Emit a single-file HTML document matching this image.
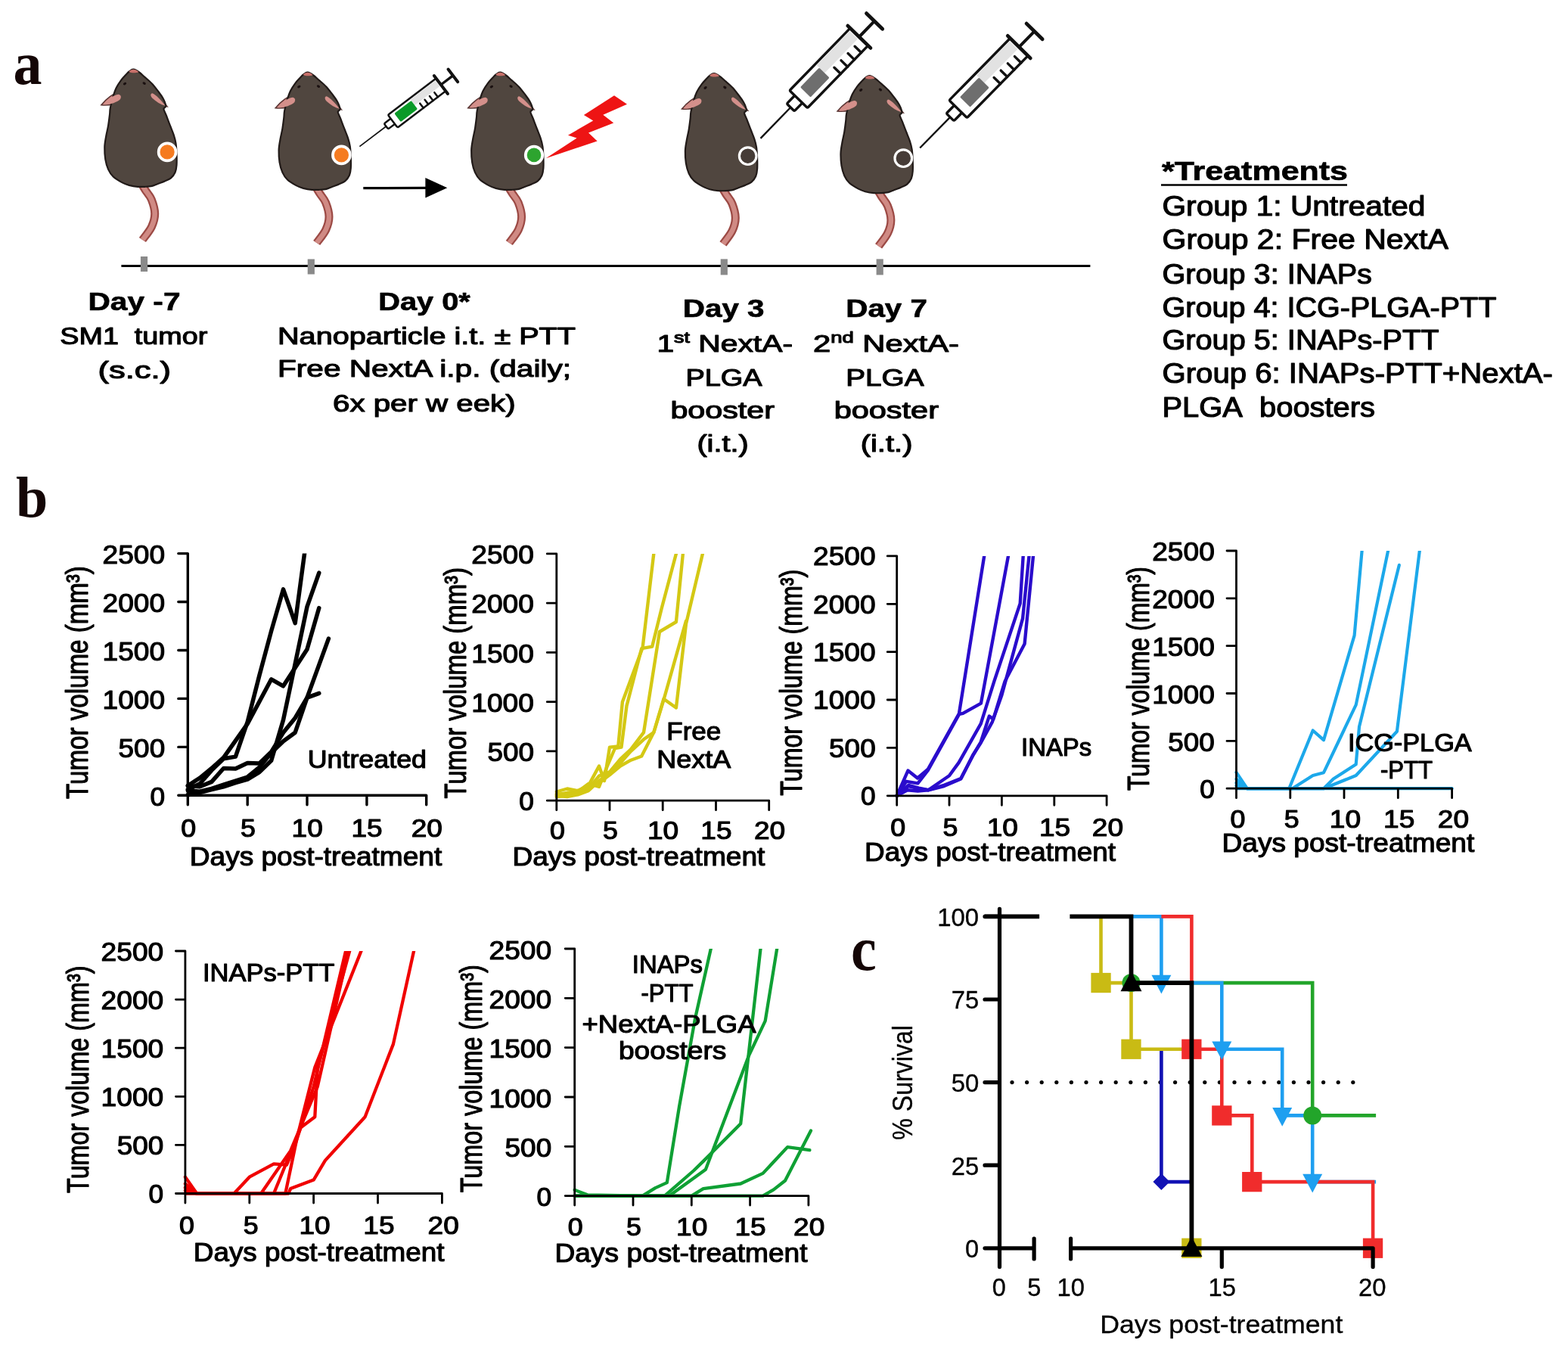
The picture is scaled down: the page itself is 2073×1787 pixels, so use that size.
<!DOCTYPE html>
<html><head><meta charset="utf-8"><title>Figure</title>
<style>html,body{margin:0;padding:0;background:#fff;}svg{display:block;}</style>
</head><body>
<svg xmlns="http://www.w3.org/2000/svg" width="2073" height="1787" viewBox="0 0 2073 1787" font-family="'Liberation Sans', Arial, sans-serif">
<rect width="2073" height="1787" fill="#fff"/>
<style>text{stroke:#000;stroke-width:1.15px;stroke-linejoin:round}text.b{stroke-width:0.7px}text.s{stroke:none}text.t{stroke-width:0.35px}</style>
<defs>
<g id="mouse">
<path d="M10.0,150.0 C11.0,151.7 13.7,156.3 16.0,160.0 C18.3,163.7 21.8,166.9 23.9,172.1 C25.9,177.2 28.3,184.9 28.3,190.9 C28.3,196.9 26.7,202.4 24.0,208.1 C21.3,213.8 14.0,222.4 12.0,225.3" fill="none" stroke="#9c4a45" stroke-width="11" stroke-linecap="butt"/>
<path d="M10.0,150.0 C11.0,151.7 13.7,156.3 16.0,160.0 C18.3,163.7 21.8,166.9 23.9,172.1 C25.9,177.2 28.3,184.9 28.3,190.9 C28.3,196.9 26.7,202.4 24.0,208.1 C21.3,213.8 14.0,222.4 12.0,225.3" fill="none" stroke="#d08a84" stroke-width="6.5" stroke-linecap="butt"/>
<path d="M-42.5,47 C-36,39 -26,31 -19,30.5 C-13,31 -12,36 -14.5,39.5 C-20,44 -31,48.5 -42.5,47Z" fill="#d88c88" stroke="#5a3634" stroke-width="1.6"/>
<path d="M44.5,49 C38,40 30,31 23.5,29 C19,29.5 20,35 23.5,38.5 C30,43.5 37,47.5 44.5,49Z" fill="#d88c88" stroke="#5a3634" stroke-width="1.6"/>
<path d="M0.0,0.0 C2.2,0.2 5.1,2.1 7.6,3.8 C10.1,5.5 12.3,7.9 15.2,10.4 C18.1,12.9 21.9,16.0 24.7,19.0 C27.5,22.0 29.9,25.3 32.3,28.5 C34.7,31.7 37.2,34.7 39.0,38.0 C40.8,41.3 42.6,46.1 42.8,48.5 C43.0,50.9 39.8,50.1 40.0,52.3 C40.2,54.5 42.4,58.1 43.8,61.8 C45.2,65.5 46.9,70.1 48.5,74.2 C50.1,78.3 52.0,82.6 53.3,86.6 C54.6,90.6 55.5,93.7 56.1,98.0 C56.7,102.3 56.9,107.5 57.1,112.3 C57.3,117.0 57.4,122.5 57.1,126.5 C56.8,130.4 56.5,133.1 55.2,136.0 C53.9,138.9 51.7,141.8 49.5,143.7 C47.3,145.6 44.8,146.2 41.9,147.5 C39.0,148.8 35.2,150.2 32.3,151.3 C29.4,152.4 27.5,153.5 24.7,154.1 C21.9,154.7 18.4,154.9 15.2,155.1 C12.0,155.3 9.2,155.4 5.7,155.1 C2.2,154.8 -2.2,154.1 -5.7,153.2 C-9.2,152.2 -11.7,151.3 -15.2,149.4 C-18.7,147.5 -23.7,144.7 -26.7,141.8 C-29.7,138.9 -31.6,136.0 -33.3,132.2 C-35.0,128.4 -36.3,123.8 -37.1,118.9 C-37.9,114.0 -38.2,107.8 -38.1,102.7 C-38.0,97.6 -37.0,93.2 -36.2,88.5 C-35.4,83.8 -34.1,79.0 -33.3,74.2 C-32.5,69.4 -31.9,63.9 -31.4,59.9 C-30.9,55.9 -31.3,54.5 -30.5,50.4 C-29.7,46.3 -28.0,39.5 -26.7,35.2 C-25.4,30.9 -24.6,28.2 -22.9,24.7 C-21.1,21.2 -18.4,17.2 -16.2,14.2 C-14.0,11.2 -11.2,8.5 -9.5,6.6 C-7.8,4.7 -7.3,3.9 -5.7,2.8 C-4.1,1.7 -2.2,-0.2 0.0,0.0Z" fill="#50463f" stroke="#211a18" stroke-width="2.2"/>
<path d="M-40,46.5 C-34,40 -26,33.5 -20,33 C-16,33.5 -16,37 -17.5,39.5 C-22,43.5 -31,47 -40,46.5Z" fill="#d4908b"/>
<path d="M42,48 C37,41 30,33.5 25,31.5 C22,32 22.5,35.5 25,38 C30,42.5 36,46.5 42,48Z" fill="#d4908b"/>
<path d="M-6,3 C-3,-1 3,-1 7,3.5 C3,5 -3,5 -6,3Z" fill="#c8706a"/>
<ellipse cx="-11.4" cy="19" rx="2.3" ry="1.6" fill="#1a1010" transform="rotate(-30 -11.4 19)"/>
<ellipse cx="14.3" cy="18.5" rx="2.3" ry="1.6" fill="#1a1010" transform="rotate(30 14.3 18.5)"/>
</g>
<g id="syr1"><line x1="0" y1="0" x2="45" y2="0" stroke="#111" stroke-width="1.75"/>
<rect x="44" y="-4.5" width="13" height="9" rx="2" fill="#fff" stroke="#111" stroke-width="2.5"/>
<rect x="55" y="-10.5" width="80" height="21" rx="2" fill="#fff" stroke="#111" stroke-width="2.5"/>
<rect x="91" y="-8.75" width="41.5" height="9.450000000000001" fill="#e2e2e2"/>
<rect x="63" y="-7.0" width="28" height="14" rx="1.5" fill="#0a9a28"/>
<line x1="98" y1="10.5" x2="98" y2="2.9" stroke="#111" stroke-width="2.5" stroke-linecap="round"/>
<line x1="106" y1="10.5" x2="106" y2="2.9" stroke="#111" stroke-width="2.5" stroke-linecap="round"/>
<line x1="114" y1="10.5" x2="114" y2="2.9" stroke="#111" stroke-width="2.5" stroke-linecap="round"/>
<line x1="122" y1="10.5" x2="122" y2="2.9" stroke="#111" stroke-width="2.5" stroke-linecap="round"/>
<line x1="135" y1="-15.0" x2="135" y2="15.0" stroke="#111" stroke-width="4.0" stroke-linecap="round"/>
<line x1="135" y1="0" x2="155" y2="0" stroke="#111" stroke-width="3.40"/>
<line x1="155" y1="-10.5" x2="155" y2="10.5" stroke="#111" stroke-width="4.0" stroke-linecap="round"/></g>
<g id="syr2"><line x1="0" y1="0" x2="58" y2="0" stroke="#111" stroke-width="2.38"/>
<rect x="57" y="-7.0" width="17" height="14" rx="2" fill="#fff" stroke="#111" stroke-width="3.4"/>
<rect x="72" y="-16.5" width="115" height="33" rx="2" fill="#fff" stroke="#111" stroke-width="3.4"/>
<rect x="121" y="-14.3" width="62.6" height="14.85" fill="#e2e2e2"/>
<rect x="85" y="-9.5" width="36" height="19" rx="1.5" fill="#6e6e6e"/>
<line x1="135" y1="16.5" x2="135" y2="4.6" stroke="#111" stroke-width="3.4" stroke-linecap="round"/>
<line x1="148" y1="16.5" x2="148" y2="4.6" stroke="#111" stroke-width="3.4" stroke-linecap="round"/>
<line x1="161" y1="16.5" x2="161" y2="4.6" stroke="#111" stroke-width="3.4" stroke-linecap="round"/>
<line x1="174" y1="16.5" x2="174" y2="4.6" stroke="#111" stroke-width="3.4" stroke-linecap="round"/>
<line x1="187" y1="-21.0" x2="187" y2="21.0" stroke="#111" stroke-width="4.8" stroke-linecap="round"/>
<line x1="187" y1="0" x2="216" y2="0" stroke="#111" stroke-width="4.08"/>
<line x1="216" y1="-14.75" x2="216" y2="14.75" stroke="#111" stroke-width="4.8" stroke-linecap="round"/></g>
</defs>
<text transform="translate(17.5,111) scale(1,1.06)" font-size="76" font-weight="bold" font-family="'Liberation Serif', 'Times New Roman', serif" fill="#140606" class="s">a</text>
<text transform="translate(21,682.5) scale(1,1.01)" font-size="76" font-weight="bold" font-family="'Liberation Serif', 'Times New Roman', serif" fill="#140606" class="s">b</text>
<text transform="translate(1125,1282) scale(1,1.09)" font-size="76" font-weight="bold" font-family="'Liberation Serif', 'Times New Roman', serif" fill="#140606" class="s">c</text>
<use href="#mouse" x="176.4" y="91.7"/>
<circle cx="221.1" cy="200.9" r="13.3" fill="#fff"/><circle cx="221.1" cy="200.9" r="9.6" fill="#f57b20"/>
<use href="#mouse" x="406.7" y="95.7"/>
<circle cx="451.4" cy="204.9" r="13.3" fill="#fff"/><circle cx="451.4" cy="204.9" r="9.6" fill="#f57b20"/>
<use href="#mouse" x="661.3" y="95.7"/>
<circle cx="706.0" cy="204.9" r="13.1" fill="#fff"/><circle cx="706.0" cy="204.9" r="9.3" fill="#2da42f"/>
<use href="#mouse" x="944" y="97"/>
<circle cx="988.7" cy="206.2" r="11.3" fill="#463c37" stroke="#fff" stroke-width="3.2"/>
<use href="#mouse" x="1149.6" y="100"/>
<circle cx="1194.3" cy="209.2" r="11.3" fill="#463c37" stroke="#fff" stroke-width="3.2"/>
<use href="#syr1" transform="translate(475.4,193.6) rotate(-37.2)"/>
<use href="#syr2" transform="translate(1005.5,182.8) rotate(-45.8)"/>
<use href="#syr2" transform="translate(1216.2,195.5) rotate(-45.5)"/>
<line x1="480.3" y1="248.6" x2="565" y2="248.4" stroke="#000" stroke-width="3.2"/>
<polygon points="562.4,235 562.4,261.5 591.3,248.2" fill="#000"/>
<polygon points="721.7,209.2 762.6,182.6 751,178.7 784.2,159.4 771.9,152.1 812,126.2 829,137.8 797.3,151.7 811.2,162.5 778,175.6 789.6,186.4" fill="#ee1414"/>
<line x1="160.4" y1="351.6" x2="1441.4" y2="351.6" stroke="#000" stroke-width="3"/>
<rect x="185.9" y="339" width="9.2" height="20" fill="#8a8a8a"/>
<rect x="406.7" y="342.5" width="9.2" height="20.0" fill="#8a8a8a"/>
<rect x="952.7" y="342.4" width="9.2" height="21.0" fill="#8a8a8a"/>
<rect x="1158.6" y="342.4" width="9.2" height="21.0" fill="#8a8a8a"/>
<text x="177.5" y="409.6" font-size="34" text-anchor="middle" font-weight="bold" class="b" textLength="122.0" lengthAdjust="spacingAndGlyphs">Day -7</text>
<text x="176.8" y="455.0" font-size="32" text-anchor="middle" textLength="195.0" lengthAdjust="spacingAndGlyphs">SM1  tumor</text>
<text x="177.8" y="499.5" font-size="32" text-anchor="middle" textLength="96.5" lengthAdjust="spacingAndGlyphs">(s.c.)</text>
<text x="561.0" y="409.6" font-size="34" text-anchor="middle" font-weight="bold" class="b" textLength="121.6" lengthAdjust="spacingAndGlyphs">Day 0*</text>
<text x="564.0" y="455.0" font-size="32" text-anchor="middle" textLength="394.0" lengthAdjust="spacingAndGlyphs">Nanoparticle i.t. ± PTT</text>
<text x="561.0" y="498.4" font-size="32" text-anchor="middle" textLength="388.0" lengthAdjust="spacingAndGlyphs">Free NextA i.p. (daily;</text>
<text x="560.8" y="544.0" font-size="32" text-anchor="middle" textLength="241.6" lengthAdjust="spacingAndGlyphs">6x per w eek)</text>
<text x="956.7" y="418.7" font-size="34" text-anchor="middle" font-weight="bold" class="b" textLength="107.8" lengthAdjust="spacingAndGlyphs">Day 3</text>
<text x="958.2" y="465" font-size="32" text-anchor="middle" textLength="179.6" lengthAdjust="spacingAndGlyphs">1<tspan font-size="21" dy="-12">st</tspan><tspan dy="12"> NextA-</tspan></text>
<text x="957.0" y="510.0" font-size="32" text-anchor="middle" textLength="101.2" lengthAdjust="spacingAndGlyphs">PLGA</text>
<text x="955.2" y="553.4" font-size="32" text-anchor="middle" textLength="137.6" lengthAdjust="spacingAndGlyphs">booster</text>
<text x="955.5" y="596.8" font-size="32" text-anchor="middle" textLength="68.2" lengthAdjust="spacingAndGlyphs">(i.t.)</text>
<text x="1172.1" y="418.7" font-size="34" text-anchor="middle" font-weight="bold" class="b" textLength="107.7" lengthAdjust="spacingAndGlyphs">Day 7</text>
<text x="1171.5" y="465" font-size="32" text-anchor="middle" textLength="193" lengthAdjust="spacingAndGlyphs">2<tspan font-size="21" dy="-12">nd</tspan><tspan dy="12"> NextA-</tspan></text>
<text x="1169.9" y="510.0" font-size="32" text-anchor="middle" textLength="103.2" lengthAdjust="spacingAndGlyphs">PLGA</text>
<text x="1171.8" y="553.4" font-size="32" text-anchor="middle" textLength="138.3" lengthAdjust="spacingAndGlyphs">booster</text>
<text x="1172.1" y="596.8" font-size="32" text-anchor="middle" textLength="68.8" lengthAdjust="spacingAndGlyphs">(i.t.)</text>
<text x="1536.0" y="238.0" font-size="35" font-weight="bold" class="b" textLength="246.0" lengthAdjust="spacingAndGlyphs">*Treatments</text>
<line x1="1535" y1="244.5" x2="1781" y2="244.5" stroke="#000" stroke-width="2.6"/>
<text x="1536.5" y="284.5" font-size="36" textLength="347.9" lengthAdjust="spacingAndGlyphs">Group 1: Untreated</text>
<text x="1536.5" y="329.3" font-size="36" textLength="378.3" lengthAdjust="spacingAndGlyphs">Group 2: Free NextA</text>
<text x="1536.5" y="375.0" font-size="36" textLength="277.4" lengthAdjust="spacingAndGlyphs">Group 3: INAPs</text>
<text x="1536.5" y="419.2" font-size="36" textLength="441.9" lengthAdjust="spacingAndGlyphs">Group 4: ICG-PLGA-PTT</text>
<text x="1536.5" y="462.0" font-size="36" textLength="365.9" lengthAdjust="spacingAndGlyphs">Group 5: INAPs-PTT</text>
<text x="1536.5" y="506.3" font-size="36" textLength="516.5" lengthAdjust="spacingAndGlyphs">Group 6: INAPs-PTT+NextA-</text>
<text x="1536.5" y="550.6" font-size="36" textLength="281.5" lengthAdjust="spacingAndGlyphs">PLGA  boosters</text>
<clipPath id="clip1"><rect x="238.3" y="731.6" width="345.40000000000003" height="329.69999999999993"/></clipPath>
<g clip-path="url(#clip1)" fill="none" stroke="#000" stroke-width="5.5" stroke-linejoin="round" stroke-linecap="round">
<polyline points="248.3,1043.6 264.1,1036.0 279.8,1018.1 295.6,1002.7 311.4,1000.1 327.2,954.1 342.9,892.7 358.7,833.9 374.5,778.9 390.2,823.7 406.0,706.0"/>
<polyline points="248.3,1050.7 264.1,1047.5 279.8,1043.6 295.6,1039.8 311.4,1034.7 327.2,1030.2 342.9,1020.6 358.7,1005.3 374.5,951.6 390.2,877.4 406.0,801.9 421.8,757.2"/>
<polyline points="248.3,1038.5 264.1,1028.3 279.8,1015.5 295.6,1001.4 327.2,956.7 358.7,897.8 374.5,906.8 406.0,858.2 421.8,803.6"/>
<polyline points="248.3,1044.9 264.1,1046.2 279.8,1042.3 295.6,1037.2 311.4,1032.1 327.2,1027.0 342.9,1014.2 358.7,995.0 374.5,979.7 390.2,968.2 406.0,922.1 434.4,844.1"/>
<polyline points="248.3,1038.5 264.1,1039.8 279.8,1033.4 295.6,1015.5 311.4,1016.1 327.2,1008.5 342.9,1009.1 358.7,993.8 374.5,968.2 390.2,949.0 406.0,922.1 421.8,916.4"/>
</g>
<path d="M248.3,731.6 L248.3,1051.3 L563.7,1051.3 M235.8,1051.3 L248.3,1051.3 M235.8,987.4 L248.3,987.4 M235.8,923.4 L248.3,923.4 M235.8,859.5 L248.3,859.5 M235.8,795.5 L248.3,795.5 M235.8,731.6 L248.3,731.6 M248.3,1051.3 L248.3,1063.8 M327.2,1051.3 L327.2,1063.8 M406.0,1051.3 L406.0,1063.8 M484.9,1051.3 L484.9,1063.8 M563.7,1051.3 L563.7,1063.8" fill="none" stroke="#000" stroke-width="3.4" stroke-linecap="round" stroke-linejoin="round"/>
<text x="198.5" y="1064.9" font-size="34.4" textLength="19.6" lengthAdjust="spacingAndGlyphs">0</text>
<text x="156.6" y="1001.0" font-size="34.4" textLength="61.6" lengthAdjust="spacingAndGlyphs">500</text>
<text x="135.5" y="937.0" font-size="34.4" textLength="82.6" lengthAdjust="spacingAndGlyphs">1000</text>
<text x="135.5" y="873.1" font-size="34.4" textLength="82.6" lengthAdjust="spacingAndGlyphs">1500</text>
<text x="135.5" y="809.2" font-size="34.4" textLength="82.6" lengthAdjust="spacingAndGlyphs">2000</text>
<text x="135.5" y="745.2" font-size="34.4" textLength="82.6" lengthAdjust="spacingAndGlyphs">2500</text>
<text x="239.2" y="1106.0" font-size="33.8" textLength="19.9" lengthAdjust="spacingAndGlyphs">0</text>
<text x="318.0" y="1106.0" font-size="33.8" textLength="19.9" lengthAdjust="spacingAndGlyphs">5</text>
<text x="385.6" y="1106.0" font-size="33.8" textLength="41.2" lengthAdjust="spacingAndGlyphs">10</text>
<text x="464.4" y="1106.0" font-size="33.8" textLength="41.2" lengthAdjust="spacingAndGlyphs">15</text>
<text x="543.7" y="1106.0" font-size="33.8" textLength="41.2" lengthAdjust="spacingAndGlyphs">20</text>
<text x="250.8" y="1143.8" font-size="34.3" textLength="333.4" lengthAdjust="spacingAndGlyphs">Days post-treatment</text>
<text transform="translate(116.2,1055.9) rotate(-90)" font-size="40" textLength="307.8" lengthAdjust="spacingAndGlyphs">Tumor volume (mm³)</text>
<text x="406.7" y="1014.6" font-size="33" textLength="157.3" lengthAdjust="spacingAndGlyphs">Untreated</text>
<clipPath id="clip2"><rect x="725.8" y="731.9" width="310.9000000000001" height="336.30000000000007"/></clipPath>
<g clip-path="url(#clip2)" fill="none" stroke="#d4c814" stroke-width="4.4" stroke-linejoin="round" stroke-linecap="round">
<polyline points="735.8,1046.5 749.8,1042.5 763.9,1045.1 777.9,1038.6 792.0,1012.5 799.0,1032.1 806.0,987.7 817.3,986.4 822.9,927.7 849.6,855.9 864.3,731.9"/>
<polyline points="735.8,1050.4 749.8,1047.8 763.9,1046.5 777.9,1036.0 792.0,1039.9 801.8,1015.1 813.0,989.0 821.5,987.7 828.5,932.9 848.2,857.2 862.2,854.6 874.8,803.7 893.9,731.9"/>
<polyline points="735.8,1053.0 749.8,1051.7 763.9,1049.1 777.9,1042.5 792.0,1025.6 806.0,1020.3 820.1,1003.4 834.1,990.3 851.0,968.1 872.0,835.0 893.9,822.0 902.9,731.9"/>
<polyline points="735.8,1049.1 749.8,1050.4 763.9,1047.8 777.9,1041.2 792.0,1034.7 806.0,1024.3 820.1,1012.5 834.1,1004.7 848.2,999.5 864.3,968.1 877.4,925.1 907.0,820.7"/>
<polyline points="735.8,1051.7 749.8,1053.0 763.9,1050.4 777.9,1045.1 792.0,1032.1 806.0,1021.7 820.1,1008.6 834.1,992.9 851.0,977.3 864.3,968.1 877.4,923.8 893.9,935.5 907.0,824.6 928.9,731.9"/>
</g>
<path d="M735.8,731.9 L735.8,1058.2 L1016.7,1058.2 M723.3,1058.2 L735.8,1058.2 M723.3,992.9 L735.8,992.9 M723.3,927.7 L735.8,927.7 M723.3,862.4 L735.8,862.4 M723.3,797.2 L735.8,797.2 M723.3,731.9 L735.8,731.9 M735.8,1058.2 L735.8,1070.7 M806.0,1058.2 L806.0,1070.7 M876.2,1058.2 L876.2,1070.7 M946.5,1058.2 L946.5,1070.7 M1016.7,1058.2 L1016.7,1070.7" fill="none" stroke="#000" stroke-width="2.8" stroke-linecap="round" stroke-linejoin="round"/>
<text x="686.3" y="1071.4" font-size="34.4" textLength="19.6" lengthAdjust="spacingAndGlyphs">0</text>
<text x="644.4" y="1006.2" font-size="34.4" textLength="61.6" lengthAdjust="spacingAndGlyphs">500</text>
<text x="623.3" y="940.9" font-size="34.4" textLength="82.6" lengthAdjust="spacingAndGlyphs">1000</text>
<text x="623.3" y="875.6" font-size="34.4" textLength="82.6" lengthAdjust="spacingAndGlyphs">1500</text>
<text x="623.3" y="810.4" font-size="34.4" textLength="82.6" lengthAdjust="spacingAndGlyphs">2000</text>
<text x="623.3" y="745.1" font-size="34.4" textLength="82.6" lengthAdjust="spacingAndGlyphs">2500</text>
<text x="726.9" y="1109.0" font-size="33.8" textLength="19.9" lengthAdjust="spacingAndGlyphs">0</text>
<text x="797.1" y="1109.0" font-size="33.8" textLength="19.9" lengthAdjust="spacingAndGlyphs">5</text>
<text x="856.0" y="1109.0" font-size="33.8" textLength="41.2" lengthAdjust="spacingAndGlyphs">10</text>
<text x="926.3" y="1109.0" font-size="33.8" textLength="41.2" lengthAdjust="spacingAndGlyphs">15</text>
<text x="996.9" y="1109.0" font-size="33.8" textLength="41.2" lengthAdjust="spacingAndGlyphs">20</text>
<text x="677.4" y="1143.6" font-size="34.3" textLength="334.0" lengthAdjust="spacingAndGlyphs">Days post-treatment</text>
<text transform="translate(616.0,1055.5) rotate(-90)" font-size="40" textLength="305.4" lengthAdjust="spacingAndGlyphs">Tumor volume (mm³)</text>
<text x="917.3" y="977.6" font-size="33" text-anchor="middle" textLength="72.1" lengthAdjust="spacingAndGlyphs">Free</text>
<text x="917.3" y="1014.7" font-size="33" text-anchor="middle" textLength="97.9" lengthAdjust="spacingAndGlyphs">NextA</text>
<clipPath id="clip3"><rect x="1175.7" y="734.9" width="307.39999999999986" height="326.9"/></clipPath>
<g clip-path="url(#clip3)" fill="none" stroke="#2a0ccc" stroke-width="4.4" stroke-linejoin="round" stroke-linecap="round">
<polyline points="1185.7,1051.8 1200.4,1018.6 1213.0,1028.5 1226.8,1016.8 1267.9,943.4 1301.2,734.9"/>
<polyline points="1185.7,1051.8 1198.2,1032.8 1213.4,1035.3 1226.8,1018.2 1267.9,944.1 1273.1,942.8 1296.9,929.6 1333.0,734.9"/>
<polyline points="1185.7,1051.8 1201.0,1037.9 1214.8,1041.7 1227.3,1044.2 1255.0,1025.2 1267.5,1008.1 1296.7,956.7 1314.4,900.4 1348.7,797.6 1352.7,734.9"/>
<polyline points="1185.7,1051.8 1201.0,1039.1 1214.8,1042.3 1227.3,1044.4 1248.1,1039.1 1270.3,1029.6 1286.4,997.7 1296.7,981.7 1311.9,954.1 1324.4,918.7 1352.1,817.3 1360.5,734.9"/>
<polyline points="1185.7,1051.8 1199.6,1044.2 1213.4,1045.5 1227.3,1044.2 1248.1,1037.9 1270.3,1029.0 1287.0,997.3 1296.7,980.8 1307.8,946.6 1313.3,950.4 1328.6,900.4 1354.6,851.0 1366.0,734.9"/>
</g>
<path d="M1185.7,734.9 L1185.7,1051.8 L1463.1,1051.8 M1173.2,1051.8 L1185.7,1051.8 M1173.2,988.4 L1185.7,988.4 M1173.2,925.0 L1185.7,925.0 M1173.2,861.7 L1185.7,861.7 M1173.2,798.3 L1185.7,798.3 M1173.2,734.9 L1185.7,734.9 M1185.7,1051.8 L1185.7,1064.3 M1255.0,1051.8 L1255.0,1064.3 M1324.4,1051.8 L1324.4,1064.3 M1393.8,1051.8 L1393.8,1064.3 M1463.1,1051.8 L1463.1,1064.3" fill="none" stroke="#000" stroke-width="2.8" stroke-linecap="round" stroke-linejoin="round"/>
<text x="1138.0" y="1064.0" font-size="34.4" textLength="19.6" lengthAdjust="spacingAndGlyphs">0</text>
<text x="1096.1" y="1000.6" font-size="34.4" textLength="61.6" lengthAdjust="spacingAndGlyphs">500</text>
<text x="1075.0" y="937.3" font-size="34.4" textLength="82.6" lengthAdjust="spacingAndGlyphs">1000</text>
<text x="1075.0" y="873.9" font-size="34.4" textLength="82.6" lengthAdjust="spacingAndGlyphs">1500</text>
<text x="1075.0" y="810.5" font-size="34.4" textLength="82.6" lengthAdjust="spacingAndGlyphs">2000</text>
<text x="1075.0" y="747.1" font-size="34.4" textLength="82.6" lengthAdjust="spacingAndGlyphs">2500</text>
<text x="1177.3" y="1105.0" font-size="33.8" textLength="19.9" lengthAdjust="spacingAndGlyphs">0</text>
<text x="1246.6" y="1105.0" font-size="33.8" textLength="19.9" lengthAdjust="spacingAndGlyphs">5</text>
<text x="1304.7" y="1105.0" font-size="33.8" textLength="41.2" lengthAdjust="spacingAndGlyphs">10</text>
<text x="1374.0" y="1105.0" font-size="33.8" textLength="41.2" lengthAdjust="spacingAndGlyphs">15</text>
<text x="1443.8" y="1105.0" font-size="33.8" textLength="41.2" lengthAdjust="spacingAndGlyphs">20</text>
<text x="1143.0" y="1137.8" font-size="34.3" textLength="332.1" lengthAdjust="spacingAndGlyphs">Days post-treatment</text>
<text transform="translate(1060.2,1051.7) rotate(-90)" font-size="40" textLength="298.9" lengthAdjust="spacingAndGlyphs">Tumor volume (mm³)</text>
<text x="1350.0" y="998.6" font-size="33" textLength="93.3" lengthAdjust="spacingAndGlyphs">INAPs</text>
<clipPath id="clip4"><rect x="1624.5" y="728.0" width="315.0999999999999" height="324.20000000000005"/></clipPath>
<g clip-path="url(#clip4)" fill="none" stroke="#1ca8ea" stroke-width="4.2" stroke-linejoin="round" stroke-linecap="round">
<polyline points="1634.5,1020.8 1648.8,1042.2 1704.3,1042.2 1735.7,965.5 1750.0,978.1 1790.6,839.9 1800.6,728.0"/>
<polyline points="1634.5,1029.6 1648.8,1042.2 1708.6,1042.2 1735.7,1025.0 1750.0,1021.2 1792.7,931.6 1835.1,728.0"/>
<polyline points="1634.5,1034.7 1648.8,1042.2 1750.0,1042.2 1762.8,1029.6 1792.7,1010.2 1797.0,960.5 1849.8,746.9"/>
<polyline points="1634.5,1038.4 1648.8,1042.2 1750.0,1042.2 1792.7,1025.0 1846.9,966.8 1876.8,728.0"/>
<polyline points="1634.5,1042.2 1919.6,1042.2"/>
</g>
<path d="M1634.5,728.0 L1634.5,1042.2 L1919.6,1042.2 M1622.0,1042.2 L1634.5,1042.2 M1622.0,979.4 L1634.5,979.4 M1622.0,916.5 L1634.5,916.5 M1622.0,853.7 L1634.5,853.7 M1622.0,790.8 L1634.5,790.8 M1622.0,728.0 L1634.5,728.0 M1634.5,1042.2 L1634.5,1054.7 M1705.8,1042.2 L1705.8,1054.7 M1777.0,1042.2 L1777.0,1054.7 M1848.3,1042.2 L1848.3,1054.7 M1919.6,1042.2 L1919.6,1054.7" fill="none" stroke="#000" stroke-width="2.8" stroke-linecap="round" stroke-linejoin="round"/>
<text x="1586.2" y="1055.4" font-size="34.4" textLength="19.6" lengthAdjust="spacingAndGlyphs">0</text>
<text x="1544.3" y="992.6" font-size="34.4" textLength="61.6" lengthAdjust="spacingAndGlyphs">500</text>
<text x="1523.2" y="929.7" font-size="34.4" textLength="82.6" lengthAdjust="spacingAndGlyphs">1000</text>
<text x="1523.2" y="866.9" font-size="34.4" textLength="82.6" lengthAdjust="spacingAndGlyphs">1500</text>
<text x="1523.2" y="804.1" font-size="34.4" textLength="82.6" lengthAdjust="spacingAndGlyphs">2000</text>
<text x="1523.2" y="741.2" font-size="34.4" textLength="82.6" lengthAdjust="spacingAndGlyphs">2500</text>
<text x="1626.6" y="1093.8" font-size="33.8" textLength="19.9" lengthAdjust="spacingAndGlyphs">0</text>
<text x="1697.8" y="1093.8" font-size="33.8" textLength="19.9" lengthAdjust="spacingAndGlyphs">5</text>
<text x="1757.8" y="1093.8" font-size="33.8" textLength="41.2" lengthAdjust="spacingAndGlyphs">10</text>
<text x="1829.1" y="1093.8" font-size="33.8" textLength="41.2" lengthAdjust="spacingAndGlyphs">15</text>
<text x="1900.8" y="1093.8" font-size="33.8" textLength="41.2" lengthAdjust="spacingAndGlyphs">20</text>
<text x="1615.6" y="1125.8" font-size="34.3" textLength="333.6" lengthAdjust="spacingAndGlyphs">Days post-treatment</text>
<text transform="translate(1519.4,1045.1) rotate(-90)" font-size="40" textLength="296.0" lengthAdjust="spacingAndGlyphs">Tumor volume (mm³)</text>
<text x="1863.8" y="993.2" font-size="33" text-anchor="middle" textLength="163.8" lengthAdjust="spacingAndGlyphs">ICG-PLGA</text>
<text x="1859.5" y="1029.0" font-size="33" text-anchor="middle" textLength="69.0" lengthAdjust="spacingAndGlyphs">-PTT</text>
<clipPath id="clip5"><rect x="234.9" y="1257.0" width="369.5" height="330.5"/></clipPath>
<g clip-path="url(#clip5)" fill="none" stroke="#f00000" stroke-width="4.3" stroke-linejoin="round" stroke-linecap="round">
<polyline points="244.9,1555.7 260.2,1577.5 309.4,1577.5 329.8,1555.7 362.0,1538.4 379.0,1539.7 389.2,1516.0 414.6,1436.5 457.1,1257.0"/>
<polyline points="244.9,1564.7 260.2,1577.5 345.1,1577.5 384.1,1521.1 419.7,1436.5 460.5,1257.0"/>
<polyline points="244.9,1569.8 260.2,1577.5 362.0,1577.5 397.7,1490.3 416.3,1476.2 419.7,1412.1 462.2,1257.0"/>
<polyline points="244.9,1573.7 260.2,1577.5 377.3,1577.5 392.6,1504.4 416.3,1410.8 477.5,1257.0"/>
<polyline points="244.9,1577.5 381.5,1577.5 384.1,1571.1 414.6,1559.6 429.9,1533.9 482.6,1476.2 519.9,1380.1 547.1,1257.0"/>
</g>
<path d="M244.9,1257.0 L244.9,1577.5 L584.4,1577.5 M232.4,1577.5 L244.9,1577.5 M232.4,1513.4 L244.9,1513.4 M232.4,1449.3 L244.9,1449.3 M232.4,1385.2 L244.9,1385.2 M232.4,1321.1 L244.9,1321.1 M232.4,1257.0 L244.9,1257.0 M244.9,1577.5 L244.9,1590.0 M329.8,1577.5 L329.8,1590.0 M414.6,1577.5 L414.6,1590.0 M499.5,1577.5 L499.5,1590.0 M584.4,1577.5 L584.4,1590.0" fill="none" stroke="#000" stroke-width="2.8" stroke-linecap="round" stroke-linejoin="round"/>
<text x="196.6" y="1590.2" font-size="34.4" textLength="19.6" lengthAdjust="spacingAndGlyphs">0</text>
<text x="154.7" y="1526.1" font-size="34.4" textLength="61.6" lengthAdjust="spacingAndGlyphs">500</text>
<text x="133.6" y="1462.0" font-size="34.4" textLength="82.6" lengthAdjust="spacingAndGlyphs">1000</text>
<text x="133.6" y="1397.9" font-size="34.4" textLength="82.6" lengthAdjust="spacingAndGlyphs">1500</text>
<text x="133.6" y="1333.8" font-size="34.4" textLength="82.6" lengthAdjust="spacingAndGlyphs">2000</text>
<text x="133.6" y="1269.7" font-size="34.4" textLength="82.6" lengthAdjust="spacingAndGlyphs">2500</text>
<text x="237.0" y="1630.5" font-size="33.8" textLength="19.9" lengthAdjust="spacingAndGlyphs">0</text>
<text x="321.8" y="1630.5" font-size="33.8" textLength="19.9" lengthAdjust="spacingAndGlyphs">5</text>
<text x="395.4" y="1630.5" font-size="33.8" textLength="41.2" lengthAdjust="spacingAndGlyphs">10</text>
<text x="480.3" y="1630.5" font-size="33.8" textLength="41.2" lengthAdjust="spacingAndGlyphs">15</text>
<text x="565.6" y="1630.5" font-size="33.8" textLength="41.2" lengthAdjust="spacingAndGlyphs">20</text>
<text x="255.8" y="1666.7" font-size="34.3" textLength="331.7" lengthAdjust="spacingAndGlyphs">Days post-treatment</text>
<text transform="translate(116.8,1576.9) rotate(-90)" font-size="40" textLength="300.3" lengthAdjust="spacingAndGlyphs">Tumor volume (mm³)</text>
<text x="268.0" y="1297.0" font-size="33" textLength="174.4" lengthAdjust="spacingAndGlyphs">INAPs-PTT</text>
<clipPath id="clip6"><rect x="749.7" y="1254.0" width="339.20000000000005" height="336.5999999999999"/></clipPath>
<g clip-path="url(#clip6)" fill="none" stroke="#0fa034" stroke-width="4.3" stroke-linejoin="round" stroke-linecap="round">
<polyline points="759.7,1572.8 776.7,1579.3 849.4,1580.6 866.4,1570.1 881.8,1563.1 898.1,1462.2 918.9,1346.8 939.8,1254.0"/>
<polyline points="759.7,1580.6 878.7,1580.6 917.4,1547.0 929.8,1534.9 979.2,1485.2 991.6,1376.8 1005.5,1254.0"/>
<polyline points="759.7,1580.6 884.9,1580.6 914.3,1559.2 932.9,1545.7 990.1,1395.1 1011.7,1349.4 1027.2,1254.0"/>
<polyline points="759.7,1580.6 914.3,1580.6 929.8,1571.2 979.2,1564.5 1008.6,1550.9 1041.1,1516.1 1070.4,1520.1"/>
<polyline points="759.7,1580.6 1008.6,1580.6 1022.5,1572.6 1038.0,1560.5 1072.0,1494.4"/>
</g>
<path d="M759.7,1254.0 L759.7,1580.6 L1068.9,1580.6 M747.2,1580.6 L759.7,1580.6 M747.2,1515.3 L759.7,1515.3 M747.2,1450.0 L759.7,1450.0 M747.2,1384.6 L759.7,1384.6 M747.2,1319.3 L759.7,1319.3 M747.2,1254.0 L759.7,1254.0 M759.7,1580.6 L759.7,1593.1 M837.0,1580.6 L837.0,1593.1 M914.3,1580.6 L914.3,1593.1 M991.6,1580.6 L991.6,1593.1 M1068.9,1580.6 L1068.9,1593.1" fill="none" stroke="#000" stroke-width="2.8" stroke-linecap="round" stroke-linejoin="round"/>
<text x="709.5" y="1594.3" font-size="34.4" textLength="19.6" lengthAdjust="spacingAndGlyphs">0</text>
<text x="667.6" y="1529.0" font-size="34.4" textLength="61.6" lengthAdjust="spacingAndGlyphs">500</text>
<text x="646.5" y="1463.7" font-size="34.4" textLength="82.6" lengthAdjust="spacingAndGlyphs">1000</text>
<text x="646.5" y="1398.4" font-size="34.4" textLength="82.6" lengthAdjust="spacingAndGlyphs">1500</text>
<text x="646.5" y="1333.0" font-size="34.4" textLength="82.6" lengthAdjust="spacingAndGlyphs">2000</text>
<text x="646.5" y="1267.7" font-size="34.4" textLength="82.6" lengthAdjust="spacingAndGlyphs">2500</text>
<text x="750.8" y="1632.7" font-size="33.8" textLength="19.9" lengthAdjust="spacingAndGlyphs">0</text>
<text x="828.1" y="1632.7" font-size="33.8" textLength="19.9" lengthAdjust="spacingAndGlyphs">5</text>
<text x="894.1" y="1632.7" font-size="33.8" textLength="41.2" lengthAdjust="spacingAndGlyphs">10</text>
<text x="971.4" y="1632.7" font-size="33.8" textLength="41.2" lengthAdjust="spacingAndGlyphs">15</text>
<text x="1049.1" y="1632.7" font-size="33.8" textLength="41.2" lengthAdjust="spacingAndGlyphs">20</text>
<text x="733.6" y="1668.0" font-size="34.3" textLength="333.9" lengthAdjust="spacingAndGlyphs">Days post-treatment</text>
<text transform="translate(636.5,1576.3) rotate(-90)" font-size="40" textLength="301.2" lengthAdjust="spacingAndGlyphs">Tumor volume (mm³)</text>
<text x="882.4" y="1285.9" font-size="33" text-anchor="middle" textLength="93.3" lengthAdjust="spacingAndGlyphs">INAPs</text>
<text x="882.0" y="1323.5" font-size="33" text-anchor="middle" textLength="69.0" lengthAdjust="spacingAndGlyphs">-PTT</text>
<text x="884.5" y="1365.2" font-size="33" text-anchor="middle" textLength="229.9" lengthAdjust="spacingAndGlyphs">+NextA-PLGA</text>
<text x="889.2" y="1400.0" font-size="33" text-anchor="middle" textLength="142.5" lengthAdjust="spacingAndGlyphs">boosters</text>
<g fill="#000"><circle cx="1338.0" cy="1430.6" r="2.6"/><circle cx="1357.6" cy="1430.6" r="2.6"/><circle cx="1377.2" cy="1430.6" r="2.6"/><circle cx="1396.8" cy="1430.6" r="2.6"/><circle cx="1416.4" cy="1430.6" r="2.6"/><circle cx="1436.0" cy="1430.6" r="2.6"/><circle cx="1455.6" cy="1430.6" r="2.6"/><circle cx="1475.2" cy="1430.6" r="2.6"/><circle cx="1494.8" cy="1430.6" r="2.6"/><circle cx="1514.4" cy="1430.6" r="2.6"/><circle cx="1534.0" cy="1430.6" r="2.6"/><circle cx="1553.6" cy="1430.6" r="2.6"/><circle cx="1573.2" cy="1430.6" r="2.6"/><circle cx="1592.8" cy="1430.6" r="2.6"/><circle cx="1612.4" cy="1430.6" r="2.6"/><circle cx="1632.0" cy="1430.6" r="2.6"/><circle cx="1651.6" cy="1430.6" r="2.6"/><circle cx="1671.2" cy="1430.6" r="2.6"/><circle cx="1690.8" cy="1430.6" r="2.6"/><circle cx="1710.4" cy="1430.6" r="2.6"/><circle cx="1730.0" cy="1430.6" r="2.6"/><circle cx="1749.6" cy="1430.6" r="2.6"/><circle cx="1769.2" cy="1430.6" r="2.6"/><circle cx="1788.8" cy="1430.6" r="2.6"/></g>
<polyline points="1495.5,1211.4 1495.5,1299.1 1735.2,1299.1 1735.2,1474.4 1819.1,1474.4" fill="none" stroke="#22a52a" stroke-width="4.6" stroke-linejoin="miter"/>
<polyline points="1495.5,1211.4 1535.4,1211.4 1535.4,1299.1 1615.3,1299.1 1615.3,1386.8 1695.2,1386.8 1695.2,1474.4 1735.2,1474.4 1735.2,1562.1 1819.1,1562.1" fill="none" stroke="#1e9ff0" stroke-width="4.6" stroke-linejoin="miter"/>
<polyline points="1535.4,1211.4 1575.4,1211.4 1575.4,1386.8 1615.3,1386.8 1615.3,1474.4 1655.3,1474.4 1655.3,1562.1 1815.1,1562.1 1815.1,1649.8" fill="none" stroke="#f02c2c" stroke-width="4.6" stroke-linejoin="miter"/>
<polyline points="1535.4,1386.8 1535.4,1562.1 1575.4,1562.1" fill="none" stroke="#1212b4" stroke-width="4.6" stroke-linejoin="miter"/>
<polyline points="1415.6,1211.4 1455.5,1211.4 1455.5,1299.1 1495.5,1299.1 1495.5,1386.8 1575.4,1386.8 1575.4,1649.8" fill="none" stroke="#c9bb14" stroke-width="4.6" stroke-linejoin="miter"/>
<circle cx="1495.5" cy="1299.1" r="12" fill="#22a52a"/>
<circle cx="1735.2" cy="1474.4" r="12" fill="#22a52a"/>
<polygon points="1535.4,1313.4 1522.4,1288.7 1548.4,1288.7" fill="#1e9ff0"/>
<polygon points="1615.3,1401.1 1602.3,1376.4 1628.3,1376.4" fill="#1e9ff0"/>
<polygon points="1695.2,1488.7 1682.2,1464.0 1708.2,1464.0" fill="#1e9ff0"/>
<polygon points="1735.2,1576.4 1722.2,1551.7 1748.2,1551.7" fill="#1e9ff0"/>
<rect x="1562.2" y="1373.6" width="26.3" height="26.3" fill="#f02c2c"/>
<rect x="1602.2" y="1461.3" width="26.3" height="26.3" fill="#f02c2c"/>
<rect x="1642.1" y="1549.0" width="26.3" height="26.3" fill="#f02c2c"/>
<rect x="1801.9" y="1636.6" width="26.3" height="26.3" fill="#f02c2c"/>
<polygon points="1535.4,1551.12 1546.4499999999998,1562.1 1535.4,1573.12 1524.4499999999998,1562.1" fill="#1212b4"/>
<rect x="1442.4" y="1285.9" width="26.3" height="26.3" fill="#c9bb14"/>
<rect x="1482.3" y="1373.6" width="26.3" height="26.3" fill="#c9bb14"/>
<rect x="1562.2" y="1636.6" width="26.3" height="26.3" fill="#c9bb14"/>
<polyline points="1301.5,1211.4 1374.1,1211.4" fill="none" stroke="#000" stroke-width="5.8"/>
<polyline points="1414.4,1211.4 1495.5,1211.4 1495.5,1299.1 1575.4,1299.1 1575.4,1649.8" fill="none" stroke="#000" stroke-width="5.8" stroke-linejoin="miter"/>
<polygon points="1495.5,1283.7 1481.5,1310.3 1509.5,1310.3" fill="#000"/>
<polygon points="1575.4,1634.4 1561.4,1661.0 1589.4,1661.0" fill="#000"/>
<path d="M1321.5,1201.4 L1321.5,1674.6 M1302,1649.8 L1321.5,1649.8 M1302,1540.2 L1321.5,1540.2 M1302,1430.6 L1321.5,1430.6 M1302,1321.0 L1321.5,1321.0 M1302,1211.4 L1321.5,1211.4 M1321.5,1649.8 L1367.1,1649.8 M1367.1,1637 L1367.1,1664 M1415.6,1637 L1415.6,1664 M1415.6,1649.8 L1815.1,1649.8 M1615.3,1649.8 L1615.3,1674.6 M1815.1,1649.8 L1815.1,1674.6" fill="none" stroke="#000" stroke-width="5.2" stroke-linecap="round"/>
<text x="1239.2" y="1223.7" font-size="33.2" class="t" textLength="55.0" lengthAdjust="spacingAndGlyphs">100</text>
<text x="1257.7" y="1333.3" font-size="33.2" class="t" textLength="36.5" lengthAdjust="spacingAndGlyphs">75</text>
<text x="1257.7" y="1442.9" font-size="33.2" class="t" textLength="36.6" lengthAdjust="spacingAndGlyphs">50</text>
<text x="1257.7" y="1552.5" font-size="33.2" class="t" textLength="36.5" lengthAdjust="spacingAndGlyphs">25</text>
<text x="1276.1" y="1662.1" font-size="33.2" class="t" textLength="18.1" lengthAdjust="spacingAndGlyphs">0</text>
<text x="1311.8" y="1713.4" font-size="33.2" class="t" textLength="18.1" lengthAdjust="spacingAndGlyphs">0</text>
<text x="1358.2" y="1713.4" font-size="33.2" class="t" textLength="18.1" lengthAdjust="spacingAndGlyphs">5</text>
<text x="1397.6" y="1713.4" font-size="33.2" class="t" textLength="36.5" lengthAdjust="spacingAndGlyphs">10</text>
<text x="1597.4" y="1713.4" font-size="33.2" class="t" textLength="36.5" lengthAdjust="spacingAndGlyphs">15</text>
<text x="1796.1" y="1713.4" font-size="33.2" class="t" textLength="36.5" lengthAdjust="spacingAndGlyphs">20</text>
<text x="1454.2" y="1761.8" font-size="33.2" class="t" textLength="321.2" lengthAdjust="spacingAndGlyphs">Days post-treatment</text>
<text transform="translate(1205.7,1506.8) rotate(-90)" font-size="36" textLength="151.8" lengthAdjust="spacingAndGlyphs" class="t">% Survival</text>
</svg>
</body></html>
